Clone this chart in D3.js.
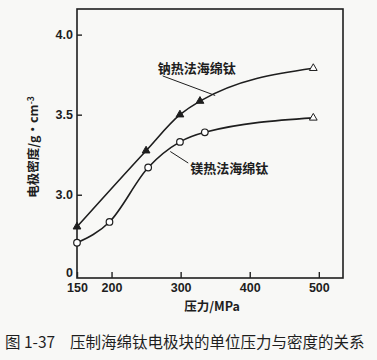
<!DOCTYPE html>
<html>

<body>
    <style>
        body {
            margin: 0;
            background: #f8f8f6;
        }

        .tick line {
            stroke: #222;
            stroke-width: 1.4;
        }

        .axis .domain {
            display: none;
        }
    </style>
    <svg width="377" height="360"></svg>
    <script src="https://d3js.org/d3.v7.min.js"></script>

    <script>
        // 钠热法海绵钛
        var pressureNa = [150, 250, 299, 328, 492];
        var densityNa = [2.80, 3.275, 3.50, 3.585, 3.79];
        // 镁热法海绵钛
        var pressureMg = [150, 197, 253, 299, 335, 492];
        var densityMg = [2.70, 2.83, 3.17, 3.33, 3.39, 3.48];

        var xTicks = [150, 200, 300, 400, 500];
        var yTicks = [3.0, 3.5, 4.0];

        // note: "top" is taken by window.top, so use other names
        var svg = d3.select("svg"),
            plotL = 77,
            plotR = 343,
            plotT = 9,
            plotB = 278;

        var x = d3.scaleLinear()
            .domain([150, 535])
            .range([plotL, plotR]);

        var y = d3.scaleLinear()
            .domain([2.48, 4.16])
            .range([plotB, plotT]);

        var ink = "#1e1e1e";
        var numFont = "'Liberation Sans', Arial, sans-serif";
        var cjkFont = "'Noto Sans CJK SC', sans-serif";

        // frame
        svg.append("rect")
            .attr("x", plotL)
            .attr("y", plotT)
            .attr("width", plotR - plotL)
            .attr("height", plotB - plotT)
            .attr("fill", "none")
            .attr("stroke", ink)
            .attr("stroke-width", 1.6);

        svg.append("g")
            .attr("class", "axis")
            .attr("transform", "translate(0," + plotB + ")")
            .call(d3.axisBottom(x).tickValues(xTicks).tickSizeInner(-6).tickSizeOuter(0).tickPadding(5))
            .attr("font-size", 12.5)
            .attr("font-family", numFont)
            .attr("font-weight", "bold")
            .selectAll("text").attr("fill", ink);

        svg.append("g")
            .attr("class", "axis")
            .attr("transform", "translate(" + plotL + ",0)")
            .call(d3.axisLeft(y).tickValues(yTicks).tickFormat(d3.format(".1f")).tickSizeInner(-5).tickSizeOuter(0).tickPadding(4))
            .attr("font-size", 12.5)
            .attr("font-family", numFont)
            .attr("font-weight", "bold")
            .selectAll("text").attr("fill", ink);

        // broken axis: zero at the bottom
        svg.append("text")
            .attr("x", plotL - 4)
            .attr("y", plotB - 5)
            .attr("dy", "0.32em")
            .attr("text-anchor", "end")
            .attr("font-size", 12.5)
            .attr("font-family", numFont)
            .attr("font-weight", "bold")
            .attr("fill", ink)
            .text("0");

        var line = d3.line()
            .x(function(d) { return x(d[0]); })
            .y(function(d) { return y(d[1]); })
            .curve(d3.curveMonotoneX);

        var na = d3.zip(pressureNa, densityNa);
        var mg = d3.zip(pressureMg, densityMg);

        svg.append("path")
            .datum(na)
            .attr("d", line)
            .attr("fill", "none")
            .attr("stroke", ink)
            .attr("stroke-width", 1.6);

        svg.append("path")
            .datum(mg)
            .attr("d", line)
            .attr("fill", "none")
            .attr("stroke", ink)
            .attr("stroke-width", 1.6);

        var tri = d3.symbol().type(d3.symbolTriangle).size(26);

        // filled triangles, last one hollow
        svg.append("g")
            .selectAll("path")
            .data(na)
            .enter().append("path")
            .attr("d", tri)
            .attr("transform", function(d) { return "translate(" + x(d[0]) + "," + y(d[1]) + ")"; })
            .attr("fill", function(d, i) { return i == na.length - 1 ? "#fff" : ink; })
            .attr("stroke", ink)
            .attr("stroke-width", 1);

        // circles, last one hollow triangle
        svg.append("g")
            .selectAll("circle")
            .data(mg.slice(0, -1))
            .enter().append("circle")
            .attr("cx", function(d) { return x(d[0]); })
            .attr("cy", function(d) { return y(d[1]); })
            .attr("r", 3.3)
            .attr("fill", "#fff")
            .attr("stroke", ink)
            .attr("stroke-width", 1.2);

        svg.append("path")
            .datum(mg[mg.length - 1])
            .attr("d", tri)
            .attr("transform", function(d) { return "translate(" + x(d[0]) + "," + y(d[1]) + ")"; })
            .attr("fill", "#fff")
            .attr("stroke", ink)
            .attr("stroke-width", 1);

        // curve labels with leader lines
        svg.append("line")
            .attr("x1", x(274)).attr("y1", y(3.742))
            .attr("x2", x(350)).attr("y2", y(3.62))
            .attr("stroke", ink).attr("stroke-width", 1);

        svg.append("line")
            .attr("x1", x(285)).attr("y1", y(3.27))
            .attr("x2", x(311)).attr("y2", y(3.198))
            .attr("stroke", ink).attr("stroke-width", 1);

        svg.append("text")
            .attr("x", x(267))
            .attr("y", y(3.79))
            .attr("dy", "0.35em")
            .attr("font-size", 13)
            .attr("font-family", cjkFont)
            .attr("font-weight", "bold")
            .attr("fill", ink)
            .text("钠热法海绵钛");

        svg.append("text")
            .attr("x", x(314))
            .attr("y", y(3.167))
            .attr("dy", "0.35em")
            .attr("font-size", 13)
            .attr("font-family", cjkFont)
            .attr("font-weight", "bold")
            .attr("fill", ink)
            .text("镁热法海绵钛");

        // axis titles
        var yTitle = svg.append("text")
            .attr("transform", "translate(38,147) rotate(-90)")
            .attr("text-anchor", "middle")
            .attr("font-size", 12.5)
            .attr("font-family", cjkFont)
            .attr("font-weight", "bold")
            .attr("fill", ink);
        yTitle.append("tspan").text("电极密度/g·cm");
        yTitle.append("tspan").attr("dy", "-0.45em").attr("font-size", 8.5).text("-3");

        svg.append("text")
            .attr("x", 212)
            .attr("y", 307)
            .attr("dy", "0.35em")
            .attr("text-anchor", "middle")
            .attr("font-size", 12.5)
            .attr("font-family", cjkFont)
            .attr("font-weight", "bold")
            .attr("fill", ink)
            .text("压力/MPa");

        // caption
        var cap = svg.append("text")
            .attr("x", 5)
            .attr("y", 343)
            .attr("dy", "0.35em")
            .attr("font-size", 15.5)
            .attr("font-family", cjkFont)
            .attr("fill", ink);
        cap.append("tspan").text("图 1-37");
        cap.append("tspan").attr("x", 70).text("压制海绵钛电极块的单位压力与密度的关系");
    </script>
</body>

</html>
